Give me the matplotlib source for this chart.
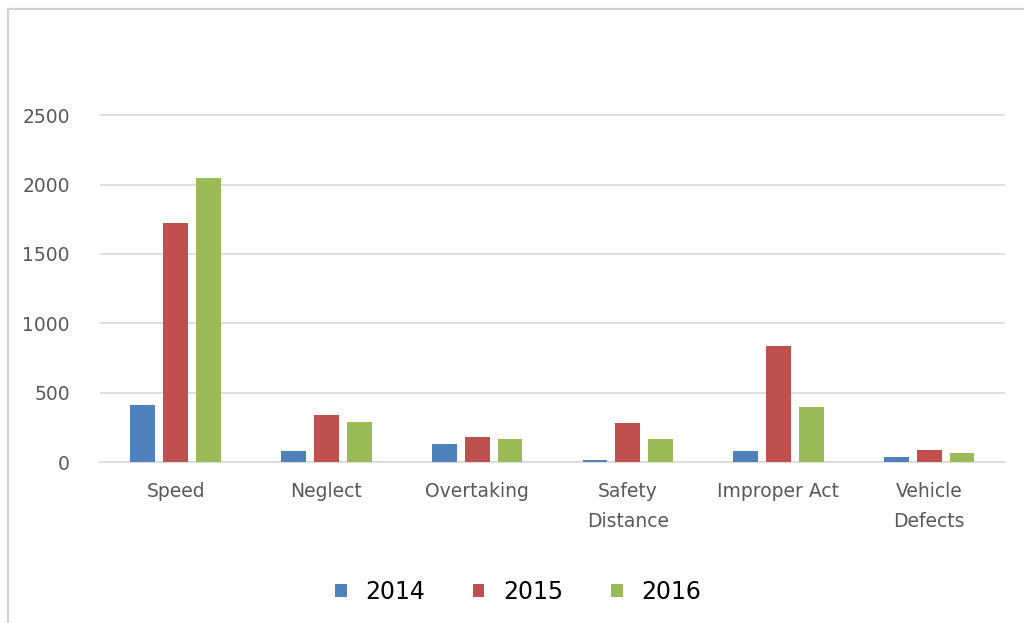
import matplotlib.pyplot as plt
import numpy as np
from matplotlib.patches import Rectangle

categories = ['Speed', 'Neglect', 'Overtaking', 'Safety\nDistance', 'Improper Act', 'Vehicle\nDefects']
years = ['2014', '2015', '2016']
v2014 = [410, 80, 130, 15, 80, 35]
v2015 = [1720, 340, 185, 280, 835, 90]
v2016 = [2045, 290, 170, 170, 400, 65]
colors = ['#4F81BD', '#C0504D', '#9BBB59']

fig = plt.figure(figsize=(10.24, 6.23), dpi=100)
ax = fig.add_axes([0.098, 0.258, 0.883, 0.564])

x = np.arange(len(categories))
w = 0.165
step = 0.218
for i, (vals, c, lab) in enumerate(zip([v2014, v2015, v2016], colors, years)):
    ax.bar(x + (i - 1) * step, vals, width=w, color=c, label=lab, zorder=3)

ax.set_xlim(-0.5, len(categories) - 0.5)
ax.set_ylim(0, 2530)
ax.set_yticks(range(0, 2501, 500))
ax.grid(axis='y', color='#d9d9d9', linewidth=1.2, zorder=0)
ax.set_xticks(x)
ax.set_xticklabels(categories, fontsize=13.5, color='#595959', linespacing=1.75)
ax.tick_params(axis='y', labelsize=13.5, labelcolor='#595959', length=0, pad=22)
ax.tick_params(axis='x', length=0, pad=14)
for s in ['top', 'right', 'left']:
    ax.spines[s].set_visible(False)
ax.spines['bottom'].set_color('#d9d9d9')
ax.spines['bottom'].set_linewidth(1.2)

ax.legend(loc='upper center', bbox_to_anchor=(0.462, -0.275), ncol=3, frameon=False,
          fontsize=17, handlelength=0.5, handleheight=0.5, columnspacing=2.0, handletextpad=0.8)

fig.patches.append(Rectangle((0.008, -0.01), 1.2, 0.995, transform=fig.transFigure,
                             fill=False, edgecolor='#d0d0d0', linewidth=1.5))

fig.savefig('out.png', dpi=100)
